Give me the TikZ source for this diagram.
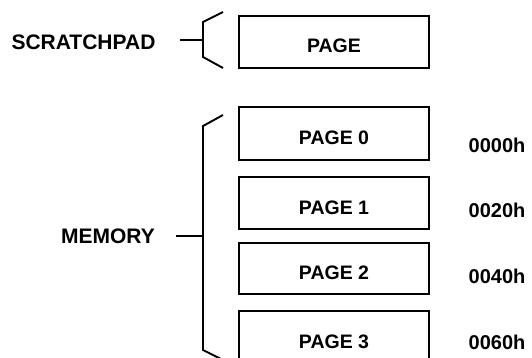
\documentclass[tikz,border=0pt]{standalone}
\usepackage{fontspec}
\setmainfont{Liberation Sans}
\begin{document}
\begin{tikzpicture}[x=1pt,y=-1pt,
  pagebox/.style={draw, line width=1.9pt, minimum width=190pt, inner sep=0pt,
    text height=22pt, text depth=0pt, font=\fontsize{19.5}{20}\selectfont\bfseries},
  hexlabel/.style={inner sep=0pt, font=\fontsize{20}{21}\selectfont\bfseries},
  sidelabel/.style={inner sep=0pt, font=\fontsize{21}{22}\selectfont\bfseries},
  brack/.style={line width=1.9pt, line join=miter, line cap=butt}]
\useasboundingbox (0,0) rectangle (532,358);
\clip (0,0) rectangle (532,358);
% boxes
\node[pagebox, minimum height=52pt] (pg)  at (334,42)    {PAGE};
\node[pagebox, minimum height=53pt] (pg0) at (334,133.5) {PAGE 0};
\node[pagebox, minimum height=52pt] (pg1) at (334,203)   {PAGE 1};
\node[pagebox, minimum height=51pt] (pg2) at (334,268.5) {PAGE 2};
\node[pagebox, minimum height=53pt] (pg3) at (334,337.5) {PAGE 3};
% addresses
\node[hexlabel] (h0) at (497,145) {0000h};
\node[hexlabel] (h1) at (497,210) {0020h};
\node[hexlabel] (h2) at (497,276) {0040h};
\node[hexlabel] (h3) at (497,342) {0060h};
% side labels
\node[sidelabel] (scr) at (83.5,42) {SCRATCHPAD};
\node[sidelabel] (mem) at (108,236) {MEMORY};
% scratchpad bracket
\coordinate (sbt) at (223,12);
\coordinate (sbtc) at (203,22);
\coordinate (sbm) at (203,40);
\coordinate (sbbc) at (203,57);
\coordinate (sbb) at (223,68);
\coordinate (sl) at (180,40);
\draw[brack] (sbt) -- (sbtc) -- (sbbc) -- (sbb);
\draw[brack] (sl) -- (sbm);
% memory bracket
\coordinate (mbt) at (223,115);
\coordinate (mbtc) at (203,126);
\coordinate (mbm) at (203,236);
\coordinate (mbbc) at (203,350);
\coordinate (mbb) at (223,360);
\coordinate (ml) at (176,236);
\draw[brack] (mbt) -- (mbtc) -- (mbbc) -- (mbb);
\draw[brack] (ml) -- (mbm);
\end{tikzpicture}
\end{document}
